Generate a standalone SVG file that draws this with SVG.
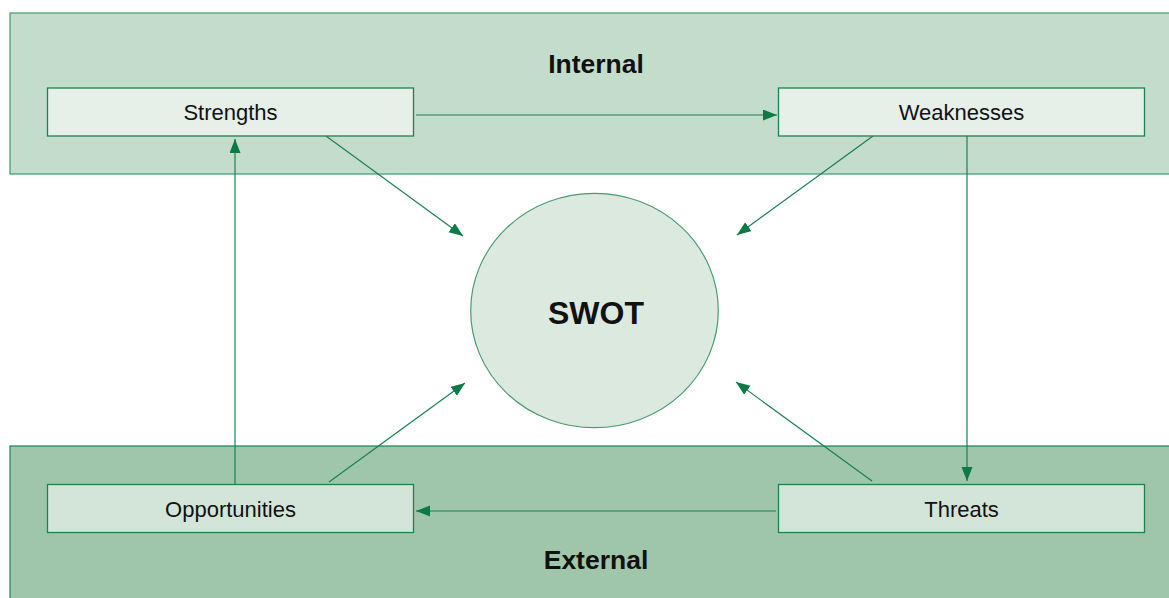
<svg xmlns="http://www.w3.org/2000/svg" width="1169" height="598" viewBox="0 0 1169 598">
  <defs>
    <marker id="arr" markerUnits="userSpaceOnUse" markerWidth="16" markerHeight="13" refX="14" refY="5.5" orient="auto">
      <path d="M0,0 L14,5.5 L0,11 z" fill="#0b7a45"/>
    </marker>
    <style>
      .band-top { fill: #c4dccb; stroke: #3f9a6c; stroke-width: 1.2; }
      .band-bot { fill: #9fc6ab; stroke: #1f8150; stroke-width: 1.2; }
      .box-top { fill: #e6f0e9; stroke: #1f8150; stroke-width: 1.3; }
      .box-bot { fill: #d3e5d8; stroke: #1f8150; stroke-width: 1.3; }
      .circle { fill: #dce9df; stroke: #4a9a72; stroke-width: 1.2; }
      .lbl { font-family: "Liberation Sans", Arial, sans-serif; font-size: 22px; fill: #111; text-anchor: middle; }
      .hdr { font-family: "Liberation Sans", Arial, sans-serif; font-size: 26.5px; font-weight: bold; fill: #111; text-anchor: middle; }
      .big { font-family: "Liberation Sans", Arial, sans-serif; font-size: 32px; font-weight: bold; fill: #111; text-anchor: middle; }
      .conn line { stroke: #1b8050; stroke-width: 1.2; marker-end: url(#arr); }
    </style>
  </defs>
  <rect width="1169" height="598" fill="#ffffff"/>

  <g id="internal">
    <rect class="band-top" x="10" y="13" width="1170" height="161"/>
    <text class="hdr" x="596" y="73">Internal</text>
  </g>
  <g id="external">
    <rect class="band-bot" x="10" y="446" width="1170" height="160"/>
    <text class="hdr" x="596" y="569">External</text>
  </g>

  <g class="conn" id="connectors">
    <line x1="416" y1="115" x2="777" y2="115"/>
    <line x1="326" y1="136" x2="463" y2="236"/>
    <line x1="873" y1="136" x2="737" y2="235"/>
    <line x1="967" y1="136" x2="967" y2="481"/>
    <line x1="872" y1="481" x2="736" y2="382"/>
    <line x1="776" y1="511" x2="416" y2="511"/>
    <line x1="329" y1="482" x2="465" y2="383"/>
    <line x1="235" y1="484" x2="235" y2="139"/>
  </g>

  <g id="strengths">
    <rect class="box-top" x="47.5" y="88" width="366" height="48"/>
    <text class="lbl" x="230.5" y="120">Strengths</text>
  </g>
  <g id="weaknesses">
    <rect class="box-top" x="778.5" y="88" width="366" height="48"/>
    <text class="lbl" x="961.5" y="120">Weaknesses</text>
  </g>
  <g id="opportunities">
    <rect class="box-bot" x="47.5" y="484.5" width="366" height="48"/>
    <text class="lbl" x="230.5" y="517">Opportunities</text>
  </g>
  <g id="threats">
    <rect class="box-bot" x="778.5" y="484.5" width="366" height="48"/>
    <text class="lbl" x="961.5" y="517">Threats</text>
  </g>
  <g id="swot">
    <ellipse class="circle" cx="594.5" cy="310.5" rx="123.8" ry="117.2"/>
    <text class="big" x="596" y="324">SWOT</text>
  </g>
</svg>
